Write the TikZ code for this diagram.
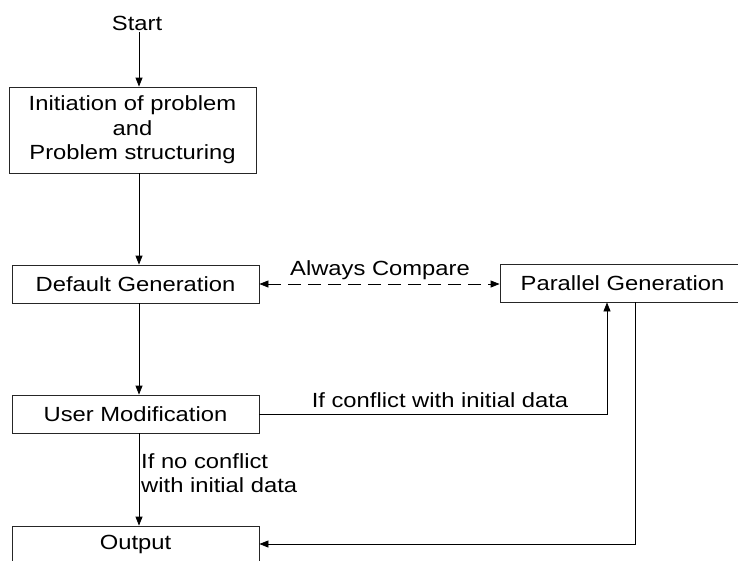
\documentclass[tikz,border=0pt]{standalone}
\usepackage{fontspec}
\setmainfont{Liberation Sans}[FakeStretch=1.16]
\usetikzlibrary{arrows.meta}
\begin{document}
\begin{tikzpicture}[x=1pt,y=-1pt,
  font=\fontsize{20.5}{24.5}\selectfont,
  box/.style={draw=black!85, line width=0.8pt, inner sep=0pt, align=center, minimum width=247pt},
  arr/.style={line width=0.8pt, -{Triangle[length=9pt,width=7pt]}},
  lbl/.style={inner sep=0pt}]
\useasboundingbox (0,0) rectangle (738,560);
\clip (0,0) rectangle (738,560);
\coordinate (spine) at (139,0);
\coordinate (c1) at (607,0);
\coordinate (c2) at (635,0);
\node[lbl, anchor=base] (start) at (137,30) {Start};
\node[box, minimum height=86pt] (init) at (132.5,130) {Initiation of problem\\and\\Problem structuring};
\node[box, minimum height=38pt] (default) at (135.5,284) {Default Generation};
\node[box, minimum height=38pt] (user) at (135.5,414) {User Modification};
\node[box, minimum height=36pt] (output) at (135.5,544) {Output};
\node[box, minimum height=38pt, minimum width=245pt] (par) at (622.5,283) {Parallel Generation};
\node[lbl, anchor=base] (always) at (380,275) {Always Compare};
\node[lbl, anchor=base] (conf) at (440,407) {If conflict with initial data};
\node[lbl, anchor=north west, align=left] (noconf) at (141,453) {If no conflict\\with initial data};
\draw[arr] (start.south -| spine) ++(0,2) -- (init.north -| spine);
\draw[arr] (init.south -| spine) -- (default.north -| spine);
\draw[arr] (default.south -| spine) -- (user.north -| spine);
\draw[arr] (user.south -| spine) -- (output.north -| spine);
\draw[line width=0.8pt, dash pattern=on 13pt off 7pt, {Triangle[length=9pt,width=7pt]}-{Triangle[length=9pt,width=7pt]}] (default.east) -- (default.east -| par.west);
\draw[arr] (user.east) -| (c1 |- par.south);
\draw[arr] (c2 |- par.south) |- (output.east);
\end{tikzpicture}
\end{document}
